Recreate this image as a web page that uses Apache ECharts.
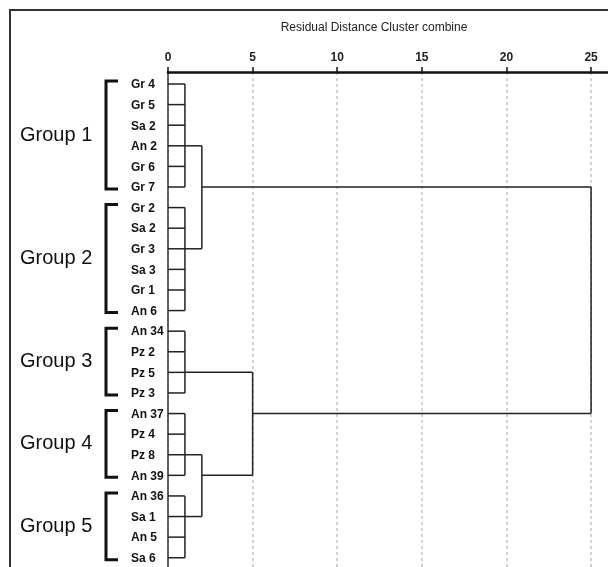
<!DOCTYPE html>
<html><head><meta charset="utf-8">
<script src="https://cdn.jsdelivr.net/npm/echarts@6/dist/echarts.min.js"></script>
<style>html,body{margin:0;padding:0;background:#fff}#c{width:608px;height:567px}</style>
</head><body><div id="c"></div>
<script>
// ---- data ----
const chartTitle = 'Residual Distance Cluster combine';
const leaves = ['Gr 4','Gr 5','Sa 2','An 2','Gr 6','Gr 7','Gr 2','Sa 2','Gr 3','Sa 3','Gr 1','An 6',
                'An 34','Pz 2','Pz 5','Pz 3','An 37','Pz 4','Pz 8','An 39','An 36','Sa 1','An 5','Sa 6'];
const xTicks = [0, 5, 10, 15, 20, 25];
const groupNames = ['Group 1','Group 2','Group 3','Group 4','Group 5'];
const groupFirst = [0, 6, 12, 16, 20];
const groupLast  = [5, 11, 15, 19, 23];
const leafJoinDist = 1;
// horizontal merge segments: row, from distance, to distance
const hRow  = [3, 8, 5, 14, 18, 21, 19, 16];
const hFrom = [1, 1, 2, 1, 1, 1, 2, 5];
const hTo   = [2, 2, 25, 5, 2, 2, 5, 25];
// vertical merge segments: distance, from row, to row
const vDist = [2, 25, 2, 5];
const vFrom = [3, 5, 18, 14];
const vTo   = [8, 16, 21, 19];

// ---- build segments ----
const segs = [];
leaves.forEach((_, i) => segs.push([0, i, leafJoinDist, i]));
groupFirst.forEach((f, g) => segs.push([leafJoinDist, f, leafJoinDist, groupLast[g]]));
hRow.forEach((r, k) => segs.push([hFrom[k], r, hTo[k], r]));
vDist.forEach((d, k) => segs.push([d, vFrom[k], d, vTo[k]]));

const FONT = '"Liberation Sans", Arial, sans-serif';
const chart = echarts.init(document.getElementById('c'), null, {renderer: 'canvas'});
chart.setOption({
  animation: false,
  backgroundColor: '#fff',
  grid: {left: 168, right: 0, top: 72, bottom: 0, containLabel: false},
  xAxis: {
    type: 'value', position: 'top', min: 0, max: 26, interval: 5,
    axisLine: {show: true, onZero: false, lineStyle: {color: '#111', width: 2.5}},
    axisTick: {show: true, length: 5, lineStyle: {color: '#111', width: 1.5}},
    axisLabel: {show: true, margin: 8, color: '#222', fontWeight: 'bold', fontSize: 12, fontFamily: FONT,
      showMaxLabel: false,
      formatter: v => xTicks.indexOf(v) >= 0 ? String(v) : ''},
    splitLine: {show: true, showMaxLine: false, lineStyle: {color: '#c4c4c4', width: 1.5, type: [3, 3]}}
  },
  yAxis: {
    type: 'value', inverse: true, min: -0.583, max: 23.45,
    axisLine: {show: true, onZero: false, lineStyle: {color: '#333', width: 1.5}},
    axisTick: {show: false}, axisLabel: {show: false}, splitLine: {show: false}
  },
  graphic: [
    {type: 'line', shape: {x1: 9, y1: 10, x2: 608, y2: 10}, style: {stroke: '#333', lineWidth: 2}},
    {type: 'line', shape: {x1: 10, y1: 10, x2: 10, y2: 567}, style: {stroke: '#333', lineWidth: 2}},
    {type: 'text', x: 374, y: 28, style: {text: chartTitle, font: '12px ' + FONT, fill: '#222',
      align: 'center', verticalAlign: 'middle', textAlign: 'center', textVerticalAlign: 'middle'}}
  ],
  series: [
    {
      type: 'custom', clip: false,
      encode: {x: [0, 2], y: [1, 3]},
      data: segs,
      renderItem: (params, api) => {
        const a = api.coord([api.value(0), api.value(1)]);
        const b = api.coord([api.value(2), api.value(3)]);
        return {type: 'line', shape: {x1: a[0], y1: a[1], x2: b[0], y2: b[1]},
          style: {stroke: '#222', lineWidth: 1.5}};
      }
    },
    {
      type: 'custom', clip: false,
      encode: {x: 0, y: 1},
      data: leaves.map((_, i) => [0, i]),
      renderItem: (params, api) => {
        const p = api.coord([0, api.value(1)]);
        return {type: 'text', x: p[0] - 37, y: p[1] + 1,
          style: {text: leaves[params.dataIndex], font: 'bold 12px ' + FONT, fill: '#111',
            align: 'left', verticalAlign: 'middle', textAlign: 'left', textVerticalAlign: 'middle'}};
      }
    },
    {
      type: 'custom', clip: false,
      encode: {x: 0, y: [1, 2]},
      data: groupNames.map((_, g) => [0, groupFirst[g], groupLast[g]]),
      renderItem: (params, api) => {
        const y1 = api.coord([0, api.value(1)])[1] - 3;
        const y2 = api.coord([0, api.value(2)])[1] + 2;
        return {type: 'group', children: [
          {type: 'polyline', shape: {points: [[118, y1], [106, y1], [106, y2], [118, y2]]},
            style: {stroke: '#111', lineWidth: 3, fill: null}},
          {type: 'text', x: 20, y: (y1 + y2) / 2,
            style: {text: groupNames[params.dataIndex], font: '20px ' + FONT, fill: '#111',
              align: 'left', verticalAlign: 'middle', textAlign: 'left', textVerticalAlign: 'middle'}}
        ]};
      }
    }
  ]
});
</script>
</body></html>
